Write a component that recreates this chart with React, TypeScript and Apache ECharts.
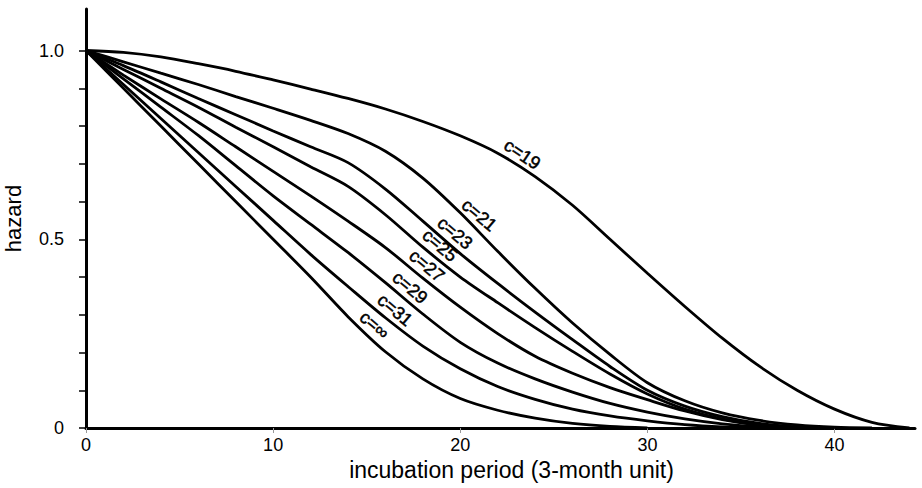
import React, { useEffect, useRef } from "react";
import * as echarts from "echarts";

// incubation period (3-month units) sample positions
const tValues = [0, 2, 4, 6, 8, 10, 12, 14, 16, 18, 20, 22, 24, 26, 28, 30, 32, 34, 36, 38, 40, 42, 44];

const seriesNames = ["c=19", "c=21", "c=23", "c=25", "c=27", "c=29", "c=31", "c=∞"];

const hazardC19 = [1, 0.995, 0.983, 0.965, 0.945, 0.922, 0.898, 0.873, 0.845, 0.812, 0.774, 0.728, 0.666, 0.59, 0.5, 0.41, 0.322, 0.238, 0.163, 0.1, 0.05, 0.015, 0];
const hazardC21 = [1, 0.97, 0.94, 0.91, 0.878, 0.847, 0.815, 0.78, 0.733, 0.662, 0.57, 0.468, 0.37, 0.278, 0.195, 0.12, 0.072, 0.04, 0.02, 0.008, 0.002, 0, null];
const hazardC23 = [1, 0.96, 0.917, 0.873, 0.83, 0.787, 0.745, 0.703, 0.633, 0.548, 0.462, 0.383, 0.307, 0.234, 0.163, 0.1, 0.058, 0.03, 0.012, 0.003, 0, null, null];
const hazardC25 = [1, 0.95, 0.9, 0.85, 0.797, 0.745, 0.692, 0.64, 0.565, 0.479, 0.4, 0.332, 0.266, 0.203, 0.143, 0.09, 0.05, 0.024, 0.008, 0, null, null, null];
const hazardC27 = [1, 0.935, 0.872, 0.81, 0.745, 0.68, 0.615, 0.548, 0.478, 0.397, 0.32, 0.25, 0.19, 0.145, 0.107, 0.075, 0.045, 0.022, 0.007, 0, null, null, null];
const hazardC29 = [1, 0.925, 0.85, 0.775, 0.695, 0.615, 0.54, 0.465, 0.385, 0.302, 0.227, 0.172, 0.13, 0.095, 0.065, 0.042, 0.024, 0.011, 0.003, 0, null, null, null];
const hazardC31 = [1, 0.91, 0.82, 0.73, 0.64, 0.55, 0.46, 0.375, 0.292, 0.217, 0.157, 0.11, 0.076, 0.05, 0.032, 0.019, 0.009, 0.003, 0, null, null, null, null];
const hazardCInf = [1, 0.9, 0.8, 0.7, 0.6, 0.5, 0.4, 0.295, 0.202, 0.13, 0.078, 0.047, 0.026, 0.012, 0.004, 0, null, null, null, null, null, null, null];

// where each curve label sits along its curve (incubation period) and its tilt in degrees
const labelT = [22.95, 20.6, 19.3, 18.5, 17.8, 16.9, 16.1, 15.0];
const labelRotate = [-34, -40, -40, -40, -40, -40, -40, -40];

const xTicks = [0, 10, 20, 30, 40];
const yTicks = [0, 0.1, 0.2, 0.3, 0.4, 0.5, 0.6, 0.7, 0.8, 0.9, 1.0];
const yLabels = [0, 0.5, 1.0];

const allHazards = [hazardC19, hazardC21, hazardC23, hazardC25, hazardC27, hazardC29, hazardC31, hazardCInf];

const FONT = "Liberation Sans, Arial, Helvetica, sans-serif";

function valueAt(vals: (number | null)[], t: number): number {
  for (let j = 0; j < tValues.length - 1; j++) {
    if (t >= tValues[j] && t <= tValues[j + 1]) {
      const a = vals[j] ?? 0;
      const b = vals[j + 1] ?? 0;
      const f = (t - tValues[j]) / (tValues[j + 1] - tValues[j]);
      return a + (b - a) * f;
    }
  }
  return 0;
}

export default function App() {
  const ref = useRef<HTMLDivElement>(null);

  useEffect(() => {
    if (!ref.current) return;
    const chart = echarts.init(ref.current, undefined, { renderer: "svg" });

    const lineSeries = allHazards.map((vals, i) => ({
      name: seriesNames[i],
      type: "line",
      data: tValues.map((t, j) => [t, vals[j]]).filter((p) => p[1] !== null),
      smooth: 0.3,
      symbol: "none",
      lineStyle: { color: "#000", width: 2.8 },
      z: 3,
    }));

    chart.setOption({
      animation: false,
      backgroundColor: "#fff",
      grid: { left: 86, right: 7, top: 9, bottom: 60, containLabel: false, outerBoundsMode: "none" },
      xAxis: {
        type: "value",
        min: 0,
        max: 44.3,
        interval: 10,
        name: "incubation period (3-month unit)",
        nameLocation: "middle",
        nameGap: 29,
        nameTextStyle: { color: "#000", fontSize: 23, fontFamily: FONT, padding: [0, 0, 0, 22] },
        axisLine: { show: true, lineStyle: { color: "#000", width: 3 } },
        axisTick: { show: true, length: 5, lineStyle: { color: "#999", width: 1 }, customValues: xTicks },
        axisLabel: { color: "#000", fontSize: 18, fontFamily: FONT, margin: 8, customValues: xTicks },
        splitLine: { show: false },
      },
      yAxis: {
        type: "value",
        min: 0,
        max: 1.11,
        name: "hazard",
        nameLocation: "middle",
        nameRotate: 90,
        nameGap: 62,
        nameTextStyle: { color: "#000", fontSize: 22, fontFamily: FONT },
        axisLine: { show: true, lineStyle: { color: "#000", width: 3 } },
        axisTick: { show: true, length: 7, lineStyle: { color: "#000", width: 1.5 }, customValues: yTicks },
        axisLabel: {
          color: "#000",
          fontSize: 18,
          fontFamily: FONT,
          margin: 22,
          customValues: yLabels,
          formatter: (v: number) => (v === 0 ? "0" : v.toFixed(1)),
        },
        splitLine: { show: false },
      },
      series: lineSeries,
    });

    // curve labels: anchored on each curve through the chart's own coordinate conversion
    const labels = seriesNames.map((n, i) => {
      const t = labelT[i];
      const p = chart.convertToPixel({ gridIndex: 0 }, [t, valueAt(allHazards[i], t)]) as number[];
      const ang = (labelRotate[i] * Math.PI) / 180;
      const gap = 3;
      const nx = -Math.sin(ang) * gap;
      const ny = -Math.cos(ang) * gap;
      return {
        type: "text",
        x: p[0] + nx,
        y: p[1] + ny,
        rotation: ang,
        z: 10,
        style: {
          text: n,
          fill: "#000",
          stroke: "#000",
          lineWidth: 0.5,
          font: `18px ${FONT}`,
          textAlign: "center",
          textVerticalAlign: "bottom",
        },
      };
    });
    chart.setOption({ graphic: labels });

    return () => chart.dispose();
  }, []);

  return (
    <div
      ref={ref}
      style={{ position: "fixed", left: 0, top: 0, width: 922, height: 488, background: "#fff" }}
    />
  );
}
